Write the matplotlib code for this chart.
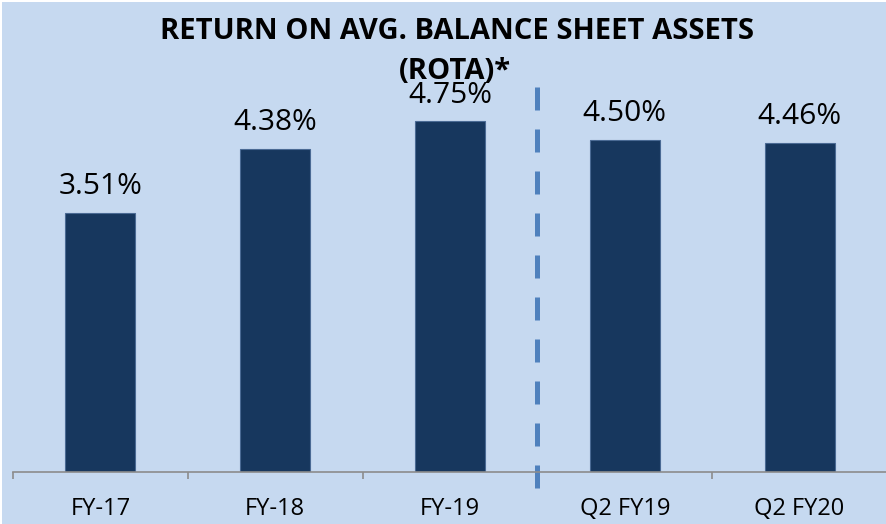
import matplotlib
matplotlib.use('Agg')
import matplotlib.pyplot as plt
from matplotlib.patches import Rectangle

categories = ['FY-17', 'FY-18', 'FY-19', 'Q2 FY19', 'Q2 FY20']
rota = [3.51, 4.38, 4.75, 4.50, 4.46]
value_labels = ['3.51%', '4.38%', '4.75%', '4.50%', '4.46%']
divider_after = 2  # dashed line sits after FY-19

bg = '#c6d9f0'
bar_color = '#17375e'

plt.rcParams['font.family'] = ['Open Sans', 'DejaVu Sans']

W, H = 887, 524
fig = plt.figure(figsize=(W / 100, H / 100), dpi=100)
fig.patch.set_facecolor('white')
fig.patches.append(Rectangle((2 / W, 0), 1, 1 - 2 / H, transform=fig.transFigure,
                             facecolor=bg, edgecolor='none', zorder=-1))

ymax = 6
ax = fig.add_axes([13 / W, (H - 472) / H, 1 - 13 / W, 443 / H])
ax.set_facecolor('none')

x = list(range(len(categories)))
bars = ax.bar(x, rota, width=0.4, color=bar_color, edgecolor='#4a6a94', linewidth=0.8)

for xi, v, lab in zip(x, rota, value_labels):
    ax.annotate(lab, (xi, v), xytext=(0, 13.5), textcoords='offset points',
                ha='center', va='baseline', fontsize=21.5, color='black')

ax.set_xlim(-0.5, len(categories) - 0.5)
ax.set_ylim(0, ymax)

# dashed divider between annual and quarterly figures
xd = divider_after + 0.5
ax.plot([xd, xd], [(472 - 87) / 73.8, (472 - 489) / 73.8], color='#4f81bd',
        lw=3.6, dashes=(23 / 5, 19 / 5), solid_capstyle='butt',
        dash_capstyle='butt', clip_on=False)

for s in ['top', 'left', 'right']:
    ax.spines[s].set_visible(False)
ax.spines['bottom'].set_color('#8c8c8c')
ax.spines['bottom'].set_linewidth(1.2)

ax.set_yticks([])
ax.set_xticks([i - 0.5 for i in range(len(categories) + 1)])
ax.set_xticklabels([])
ax.tick_params(axis='x', which='major', length=5, width=1.2, color='#8c8c8c', direction='out')
ax.set_xticks(x, minor=True)
ax.set_xticklabels(categories, minor=True, fontsize=17)
ax.tick_params(axis='x', which='minor', length=0, pad=18)

fig.text(457 / W, 1 - 39 / H, 'RETURN ON AVG. BALANCE SHEET ASSETS', ha='center',
         va='baseline', fontsize=21, fontweight='bold')
fig.text(455 / W, 1 - 79 / H, '(ROTA)*', ha='center', va='baseline',
         fontsize=21, fontweight='bold')

fig.savefig('out.png', dpi=100, facecolor=fig.get_facecolor())
